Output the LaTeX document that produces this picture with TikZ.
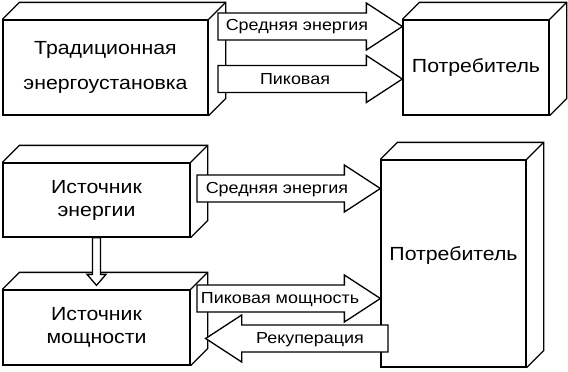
\documentclass[tikz,border=0pt]{standalone}
\usepackage{fontspec}
\setmainfont[FakeStretch=1.12]{Liberation Sans}
\usetikzlibrary{calc,positioning}

\tikzset{
  box/.style={draw, fill=white, line width=1.3pt, inner sep=0pt, align=center,
              font=\fontsize{19}{23}\selectfont},
  fat/.style={draw, fill=white, line width=1.3pt, line join=miter},
  flowtext/.style={font=\fontsize{16}{18}\selectfont, inner sep=0pt},
}

% side and top faces of a box node
\newcommand{\boxdepth}[2][17]{%
  \draw[line width=1.3pt, line join=miter] (#2.north west) -- ++(#1,-#1)
    -- ($(#2.north east)+(#1,-#1)$) -- ($(#2.south east)+(#1,-#1)$) -- (#2.south east);
  \draw[line width=1.3pt] (#2.north east) -- ++(#1,-#1);
}

% wide hollow arrow: tail, tip, body half width, head half width, head length
\newcommand{\fatarrow}[5]{%
  \coordinate (fa-base) at ($(#2)!#5!(#1)$);
  \draw[fat] ($(#1)!#3!90:(#2)$) -- ($(fa-base)!#3!90:(#2)$) -- ($(fa-base)!#4!90:(#2)$)
    -- (#2) -- ($(fa-base)!#4!-90:(#2)$) -- ($(fa-base)!#3!-90:(#2)$)
    -- ($(#1)!#3!-90:(#2)$) -- cycle;
}

\begin{document}
\begin{tikzpicture}[x=1pt, y=-1pt]
\useasboundingbox (0,0) rectangle (568,372);

% Upper scheme
\node[box, minimum width=205pt, minimum height=95pt] (trad) at (105.5,67.5)
  {Традиционная\\[12pt]энергоустановка};
\node[box, minimum width=146pt, minimum height=95pt] (cons1) at (476,67.5) {Потребитель};
\boxdepth{trad}
\boxdepth{cons1}

% Lower scheme
\node[box, minimum width=187pt, minimum height=74pt] (energy) at (96.5,200) {Источник\\энергии};
\node[box, minimum width=187pt, minimum height=75pt] (power) at (96.5,327.5) {Источник\\мощности};
\node[box, minimum width=145pt, minimum height=207pt] (cons2) at (453.5,263.5) {};
\node[box, draw=none, fill=none] (cons2-t) at ([yshift=8pt]cons2.center) {Потребитель};
\boxdepth{energy}
\boxdepth{power}
\boxdepth{cons2}

% Arrow ends
\coordinate (t1) at (218,26.5);
\coordinate (h1) at (cons1.west |- t1);
\coordinate (t2) at (218,79);
\coordinate (h2) at (cons1.west |- t2);
\coordinate (t3) at (197,188.5);
\coordinate (h3) at (cons2.west |- t3);
\coordinate (t4) at (197,298.5);
\coordinate (h4) at (cons2.west |- t4);
\coordinate (t5) at (388,338.5);
\coordinate (h5) at ($(power.east |- t5)+(15,0)$);
\coordinate (h6) at ([yshift=4pt]power.north);

\fatarrow{t1}{h1}{13.5pt}{23.5pt}{36pt}
\fatarrow{t2}{h2}{13.5pt}{23.5pt}{36pt}
\fatarrow{t3}{h3}{13.5pt}{23.5pt}{36pt}
\fatarrow{t4}{h4}{13.5pt}{23.5pt}{36pt}
\fatarrow{t5}{h5}{13.5pt}{23.5pt}{36pt}
\fatarrow{energy.south}{h6}{4pt}{9.5pt}{11pt}

% Labels on the arrows
\node[flowtext] (l1) at (297,27) {Средняя энергия};
\node[flowtext] (l2) at (295,79.5) {Пиковая};
\node[flowtext] (l3) at (277,189.5) {Средняя энергия};
\node[flowtext] (l4) at (280,299.5) {Пиковая мощность};
\node[flowtext] (l5) at (310,339.5) {Рекуперация};

\end{tikzpicture}
\end{document}
